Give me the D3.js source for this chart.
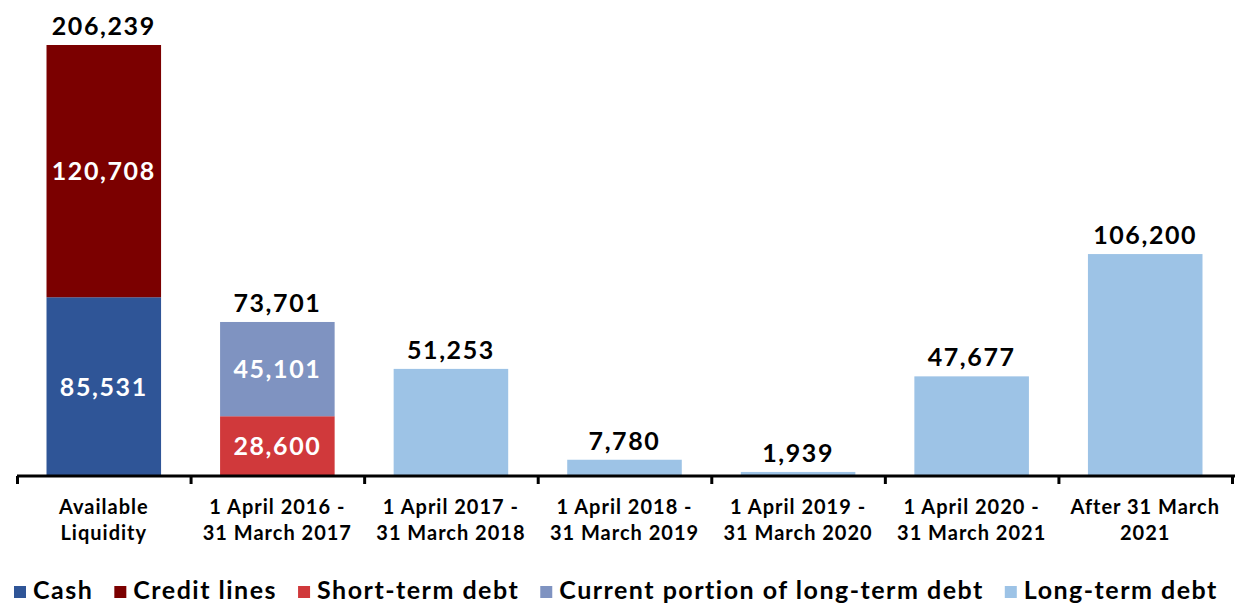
<!DOCTYPE html>
<html>
<head>
  <meta charset='utf-8'>
  <title>Liquidity and debt maturity</title>
  <style>
    body { margin: 0; background: #fff; }
    text { font-family: Lato, 'Open Sans', sans-serif; font-weight: bold; }
  </style>
</head>
<body>
<div id="chart"></div>
<script src="https://cdnjs.cloudflare.com/ajax/libs/d3/7.8.5/d3.min.js"></script>
<script>

var width = 1240, height = 605;

// categories (two-line labels)
var categories = ['Available Liquidity', '1 April 2016 - 31 March 2017', '1 April 2017 - 31 March 2018',
  '1 April 2018 - 31 March 2019', '1 April 2019 - 31 March 2020', '1 April 2020 - 31 March 2021', 'After 31 March 2021'];
var catLines = [['Available', 'Liquidity'], ['1 April 2016 -', '31 March 2017'], ['1 April 2017 -', '31 March 2018'],
  ['1 April 2018 -', '31 March 2019'], ['1 April 2019 -', '31 March 2020'], ['1 April 2020 -', '31 March 2021'],
  ['After 31 March', '2021']];

var seriesNames = ['Cash', 'Credit lines', 'Short-term debt', 'Current portion of long-term debt', 'Long-term debt'];
var seriesColors = ['#2f5597', '#7b0000', '#d0393b', '#7f93c1', '#9dc3e6'];

var cash           = [85531, 0, 0, 0, 0, 0, 0];
var creditLines    = [120708, 0, 0, 0, 0, 0, 0];
var shortTermDebt  = [0, 28600, 0, 0, 0, 0, 0];
var currentPortion = [0, 45101, 0, 0, 0, 0, 0];
var longTermDebt   = [0, 0, 51253, 7780, 1939, 47677, 106200];
var totals         = [206239, 73701, 51253, 7780, 1939, 47677, 106200];

var seriesValues = [cash, creditLines, shortTermDebt, currentPortion, longTermDebt];

var table = categories.map(function(c, i) {
  var row = { cat: c };
  seriesNames.forEach(function(s, j) { row[s] = seriesValues[j][i]; });
  return row;
});

var stack = d3.stack().keys(seriesNames)(table);

var svg = d3.select('#chart').append('svg')
  .attr('width', width)
  .attr('height', height);

var x0 = 17, x1 = 1232, baseY = 476;

var x = d3.scaleBand()
  .domain(categories)
  .range([x0, x1])
  .paddingInner(0.34)
  .paddingOuter(0.17);

var y = d3.scaleLinear()
  .domain([0, d3.max(totals)])
  .range([baseY, 45]);

var fmt = d3.format(',');

// bars
var layers = svg.append('g').selectAll('g')
  .data(stack)
  .enter().append('g')
    .attr('fill', function(d, i) { return seriesColors[i]; });

layers.selectAll('rect')
  .data(function(d) { return d; })
  .enter().append('rect')
    .filter(function(d) { return d[1] - d[0] > 0; })
    .attr('x', function(d) { return x(d.data.cat); })
    .attr('width', x.bandwidth())
    .attr('y', function(d) { return y(d[1]); })
    .attr('height', function(d) { return y(d[0]) - y(d[1]); });

// labels inside stacked segments (only for bars with more than one part)
var multi = categories.filter(function(c, i) {
  return seriesValues.filter(function(s) { return s[i] > 0; }).length > 1;
});

stack.forEach(function(layer) {
  layer.forEach(function(d) {
    var v = d[1] - d[0];
    if (v <= 0 || multi.indexOf(d.data.cat) < 0) return;
    svg.append('text')
      .attr('x', x(d.data.cat) + x.bandwidth() / 2)
      .attr('y', (y(d[0]) + y(d[1])) / 2)
      .attr('dy', '0.36em')
      .attr('text-anchor', 'middle')
      .attr('fill', '#fff')
      .attr('font-size', '25px')
      .attr('letter-spacing', '1.6px')
      .text(fmt(v));
  });
});

// totals on top
svg.append('g').selectAll('text')
  .data(totals)
  .enter().append('text')
    .attr('x', function(d, i) { return x(categories[i]) + x.bandwidth() / 2; })
    .attr('y', function(d) { return y(d) - 10; })
    .attr('text-anchor', 'middle')
    .attr('fill', '#000')
    .attr('font-size', '25px')
    .attr('letter-spacing', '1.6px')
    .text(function(d) { return fmt(d); });

// axis with ticks on category boundaries
var edges = d3.scaleLinear().domain([0, categories.length]).range([x0, x1]);
var axis = svg.append('g')
  .attr('transform', 'translate(0,' + baseY + ')')
  .call(d3.axisBottom(edges).ticks(categories.length).tickSize(8).tickFormat(''));
axis.select('.domain').attr('stroke', '#000').attr('stroke-width', 3)
  .attr('d', 'M' + x0 + ',0H' + (x1 + 3));
axis.selectAll('.tick line').attr('stroke', '#000').attr('stroke-width', 3);

// category labels
var catG = svg.append('g').selectAll('text')
  .data(categories)
  .enter().append('text')
    .attr('x', function(d) { return x(d) + x.bandwidth() / 2; })
    .attr('y', 514)
    .attr('text-anchor', 'middle')
    .attr('font-size', '20px')
    .attr('letter-spacing', '1px')
    .attr('fill', '#000');
catG.each(function(d, i) {
  var t = d3.select(this);
  catLines[i].forEach(function(line, k) {
    t.append('tspan')
      .attr('x', x(d) + x.bandwidth() / 2)
      .attr('dy', k === 0 ? 0 : 26)
      .text(line);
  });
});

// legend
var legend = svg.append('g');
var lx = 14;
seriesNames.forEach(function(name, i) {
  legend.append('rect')
    .attr('x', lx).attr('y', 586)
    .attr('width', 12).attr('height', 12)
    .attr('fill', seriesColors[i]);
  var t = legend.append('text')
    .attr('x', lx + 19).attr('y', 599)
    .attr('font-size', '25px')
    .attr('letter-spacing', '1.5px')
    .attr('fill', '#000')
    .text(name);
  lx += 19 + t.node().getComputedTextLength() + 21;
});

</script>
</body>
</html>
